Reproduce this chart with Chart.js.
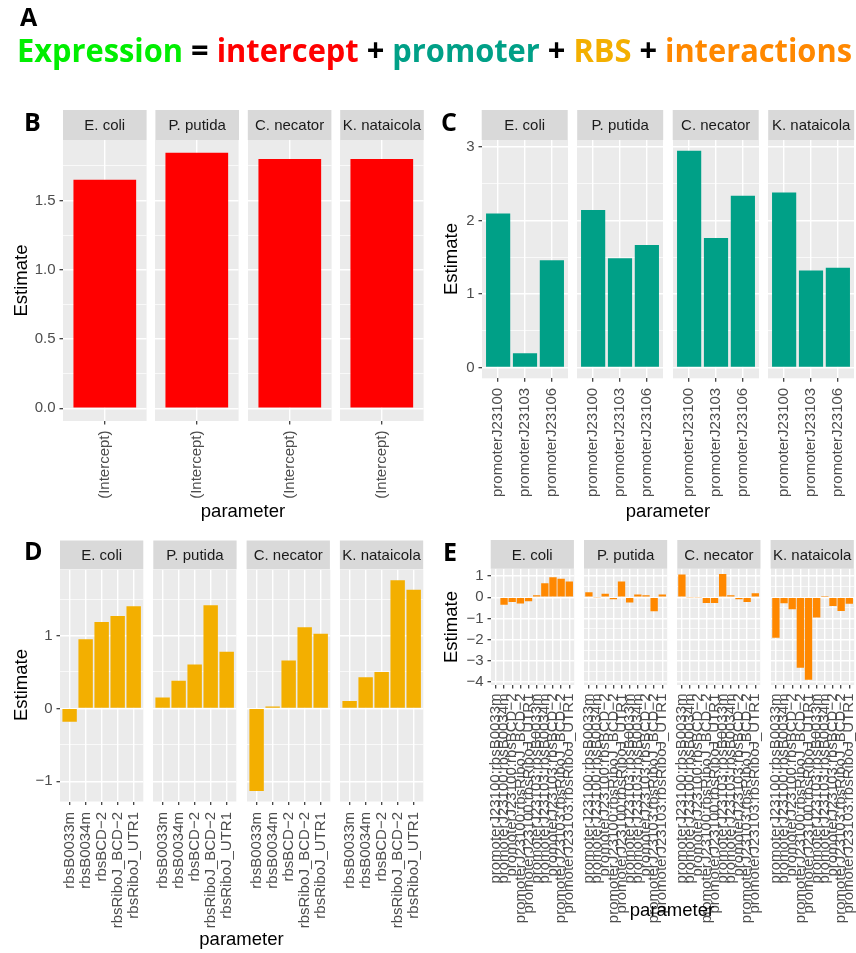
<!DOCTYPE html>
<html>
<head>
<meta charset="utf-8">
<script src="https://cdn.jsdelivr.net/npm/chart.js@4.4.1/dist/chart.umd.min.js"></script>
<style>
  html, body { margin: 0; padding: 0; background: #ffffff; }
  #page { position: relative; width: 856px; height: 953px; overflow: hidden; background: #ffffff; }
  #page canvas { position: absolute; }
  #txt { position: absolute; left: 0; top: 0; pointer-events: none; }
</style>
</head>
<body>
<div id="page"><svg id="txt" width="856" height="953" xmlns="http://www.w3.org/2000/svg"></svg></div>
<script>
// ---- data: model coefficient estimates per host species ----
const species = ['E. coli', 'P. putida', 'C. necator', 'K. nataicola'];

const interceptParams = ['(Intercept)'];
const interceptEstimates = [
  [1.65],
  [1.845],
  [1.80],
  [1.80]
];

const promoterParams = ['promoterJ23100', 'promoterJ23103', 'promoterJ23106'];
const promoterEstimates = [
  [2.095, 0.195, 1.457],
  [2.14, 1.484, 1.665],
  [2.946, 1.76, 2.335],
  [2.38, 1.317, 1.357]
];

const rbsParams = ['rbsB0033m', 'rbsB0034m', 'rbsBCD\u22122', 'rbsRiboJ_BCD\u22122', 'rbsRiboJ_UTR1'];
const rbsEstimates = [
  [-0.183, 0.95, 1.187, 1.269, 1.402],
  [0.151, 0.379, 0.603, 1.416, 0.776],
  [-1.134, 0.027, 0.658, 1.114, 1.023],
  [0.10, 0.429, 0.498, 1.758, 1.63]
];

const interactionParams = [
  'promoterJ23100:rbsB0033m', 'promoterJ23100:rbsB0034m', 'promoterJ23100:rbsBCD\u22122',
  'promoterJ23100:rbsRiboJ_BCD\u22122', 'promoterJ23100:rbsRiboJ_UTR1',
  'promoterJ23103:rbsB0033m', 'promoterJ23103:rbsB0034m', 'promoterJ23103:rbsBCD\u22122',
  'promoterJ23103:rbsRiboJ_BCD\u22122', 'promoterJ23103:rbsRiboJ_UTR1'
];
const interactionEstimates = [
  [-0.03, -0.36, -0.22, -0.30, -0.19, 0.09, 0.66, 0.94, 0.88, 0.75],
  [0.24, -0.02, 0.17, -0.09, 0.74, -0.25, 0.13, 0.09, -0.66, 0.13],
  [1.07, -0.02, -0.02, -0.27, -0.27, 1.10, 0.09, -0.09, -0.22, 0.19],
  [-1.91, -0.28, -0.57, -3.33, -3.90, -0.96, 0.01, -0.41, -0.65, -0.31]
];

// ---- colours ----
const colExpression = '#00EE00';
const colIntercept = '#FF0000';
const colPromoter = '#00A087';
const colRBS = '#F3AF00';
const colInteraction = '#FF8800';

// ---- panel geometry ----
const panels = [
  { letter: 'B', params: interceptParams, values: interceptEstimates, color: colIntercept, step: 0.5, decimals: 1,
    stripTop: 110, stripH: 30, plotBottom: 421, left0: 63, facetStep: 92.4, facetW: 83.6, canvasBottom: 530,
    yAxisW: 60, xPad: 6, letterXY: [24, 131], yTitle: [26.5, 280.5], xTitle: [243, 516.5] },
  { letter: 'C', params: promoterParams, values: promoterEstimates, color: colPromoter, step: 1, decimals: 0,
    stripTop: 110, stripH: 30, plotBottom: 378.3, left0: 481.7, facetStep: 95.5, facetW: 86, canvasBottom: 530,
    yAxisW: 40, xPad: 6, letterXY: [441, 131], yTitle: [456.5, 259], xTitle: [668, 516.5] },
  { letter: 'D', params: rbsParams, values: rbsEstimates, color: colRBS, step: 1, decimals: 0,
    stripTop: 540.5, stripH: 28.8, plotBottom: 801, left0: 60, facetStep: 93.3, facetW: 83.3, canvasBottom: 953,
    yAxisW: 57, xPad: 7, letterXY: [24, 560], yTitle: [26.5, 685], xTitle: [241.5, 945] },
  { letter: 'E', params: interactionParams, values: interactionEstimates, color: colInteraction, step: 1, decimals: 0,
    stripTop: 540, stripH: 28.7, plotBottom: 685, left0: 490.7, facetStep: 93.3, facetW: 83.2, canvasBottom: 953,
    yAxisW: 48, xPad: 5, letterXY: [443, 561], yTitle: [456.5, 627], xTitle: [672, 916] }
];

Chart.defaults.font.family = "'Liberation Sans', Arial, Helvetica, sans-serif";

const page = document.getElementById('page');
const svg = document.getElementById('txt');
const NS = 'http://www.w3.org/2000/svg';
function svgEl(tag, attrs, text, parent) {
  const el = document.createElementNS(NS, tag);
  for (const k in attrs) el.setAttribute(k, attrs[k]);
  if (text != null) el.textContent = text;
  (parent || svg).appendChild(el);
  return el;
}

// grey plotting panel behind grid lines and bars
const panelBackground = {
  id: 'panelBackground',
  beforeDraw(chart) {
    const a = chart.chartArea;
    const ctx = chart.ctx;
    ctx.save();
    ctx.fillStyle = '#EBEBEB';
    ctx.fillRect(a.left, a.top, a.right - a.left, a.bottom - a.top);
    ctx.restore();
  }
};

// major breaks every `step`, minor grid lines half way between
function yBreaks(lo, hi, step) {
  const half = step / 2;
  const out = [];
  for (let k = Math.ceil(lo / half - 1e-9); k * half <= hi + 1e-9; k++) {
    out.push({ value: +(k * half).toFixed(6), mj: Math.abs(k) % 2 === 0 });
  }
  return out;
}
function fmt(v, d) {
  const s = Math.abs(v).toFixed(d);
  return v < -1e-9 ? '\u2212' + s : s;
}

panels.forEach(p => {
  // shared y range across facets, including zero, expanded 5% each side
  const all = p.values.flat();
  const dMin = Math.min(0, ...all), dMax = Math.max(0, ...all);
  const pad = (dMax - dMin) * 0.05;
  const lo = dMin - pad, hi = dMax + pad;
  const xAxisH = p.canvasBottom - p.plotBottom;
  const n = p.params.length;

  species.forEach((sp, fi) => {
    const first = fi === 0;
    const plotLeft = p.left0 + fi * p.facetStep;
    const leftPad = first ? p.yAxisW : 8;
    const rightPad = 8;
    const cv = document.createElement('canvas');
    const w = leftPad + p.facetW + rightPad;
    const h = p.canvasBottom - p.stripTop;
    cv.width = Math.ceil(w); cv.height = Math.ceil(h);
    cv.style.left = (plotLeft - leftPad) + 'px';
    cv.style.top = p.stripTop + 'px';
    cv.style.width = Math.ceil(w) + 'px';
    cv.style.height = Math.ceil(h) + 'px';
    page.insertBefore(cv, svg);

    new Chart(cv, {
      type: 'bar',
      data: {
        datasets: [{
          data: p.values[fi].map((v, i) => ({ x: i, y: v })),
          backgroundColor: p.color,
          borderWidth: 0,
          categoryPercentage: 1,
          barPercentage: n === 1 ? 0.75 : 0.9
        }]
      },
      options: {
        responsive: false,
        animation: false,
        devicePixelRatio: 1,
        layout: { padding: { top: p.stripH, left: first ? 0 : leftPad, right: rightPad + (Math.ceil(w) - w), bottom: Math.ceil(h) - h } },
        plugins: { legend: { display: false }, tooltip: { enabled: false }, title: { display: false } },
        scales: {
          x: {
            type: 'linear',
            min: -0.6,
            max: n - 0.4,
            offset: false,
            afterBuildTicks: s => { s.ticks = p.params.map((_, i) => ({ value: i })); },
            afterFit: s => { s.height = xAxisH; s.paddingLeft = 0; s.paddingRight = 0; },
            border: { display: false },
            grid: { color: '#FFFFFF', lineWidth: 1.4, offset: false, drawTicks: true, tickLength: 3.5, tickColor: '#333333', tickWidth: 1.2 },
            ticks: {
              autoSkip: false, minRotation: 90, maxRotation: 90, padding: p.xPad,
              color: '#4D4D4D', font: { size: 15 },
              callback: (v, i) => p.params[i]
            }
          },
          y: {
            type: 'linear',
            min: lo,
            max: hi,
            afterBuildTicks: s => { s.ticks = yBreaks(lo, hi, p.step); },
            afterFit: s => { s.width = first ? p.yAxisW : 0; s.paddingTop = 0; s.paddingBottom = 0; },
            border: { display: false },
            grid: {
              color: '#FFFFFF',
              lineWidth: c => (c.tick && c.tick.mj ? 1.4 : 0.7),
              drawTicks: first, tickLength: 3.5,
              tickColor: c => (c.tick && c.tick.mj ? '#333333' : 'rgba(0,0,0,0)'),
              tickWidth: 1.2
            },
            ticks: {
              display: first, padding: 4, color: '#4D4D4D', font: { size: 15 },
              callback: (v, i, ticks) => (ticks[i].mj ? fmt(v, p.decimals) : '')
            }
          }
        }
      },
      plugins: [panelBackground]
    });

    // facet strip
    svgEl('rect', { x: plotLeft, y: p.stripTop, width: p.facetW, height: p.stripH, fill: '#D9D9D9' });
    svgEl('text', {
      x: plotLeft + p.facetW / 2, y: p.stripTop + p.stripH / 2 + 5.4,
      'text-anchor': 'middle', 'font-family': "'Liberation Sans', Arial, sans-serif",
      'font-size': 15, fill: '#1A1A1A'
    }, sp);
  });

  // axis titles and panel letter
  svgEl('text', {
    x: p.xTitle[0], y: p.xTitle[1], 'text-anchor': 'middle',
    'font-family': "'Liberation Sans', Arial, sans-serif", 'font-size': 18.5, fill: '#000000'
  }, 'parameter');
  svgEl('text', {
    x: 0, y: 0, 'text-anchor': 'middle',
    transform: 'translate(' + p.yTitle[0] + ',' + p.yTitle[1] + ') rotate(-90)',
    'font-family': "'Liberation Sans', Arial, sans-serif", 'font-size': 18.5, fill: '#000000'
  }, 'Estimate');
  svgEl('text', {
    x: p.letterXY[0], y: p.letterXY[1],
    'font-family': "'Open Sans', 'DejaVu Sans', sans-serif", 'font-weight': 700, 'font-size': 25, fill: '#000000'
  }, p.letter);
});

// panel A: model formula
svgEl('text', { x: 20, y: 26, 'font-family': "'Open Sans', 'DejaVu Sans', sans-serif", 'font-weight': 700, 'font-size': 25, fill: '#000000' }, 'A');
const formulaParts = [
  ['Expression', colExpression], [' = ', '#000000'], ['intercept', colIntercept], [' + ', '#000000'],
  ['promoter', colPromoter], [' + ', '#000000'], ['RBS', colRBS], [' + ', '#000000'], ['interactions', colInteraction]
];
const formula = svgEl('text', {
  x: 17, y: 62, textLength: 835, lengthAdjust: 'spacingAndGlyphs',
  'font-family': "'Open Sans', 'DejaVu Sans', sans-serif", 'font-weight': 700, 'font-size': 33,
  'xml:space': 'preserve'
});
formulaParts.forEach(([t, c]) => svgEl('tspan', { fill: c }, t, formula));
</script>
</body>
</html>
